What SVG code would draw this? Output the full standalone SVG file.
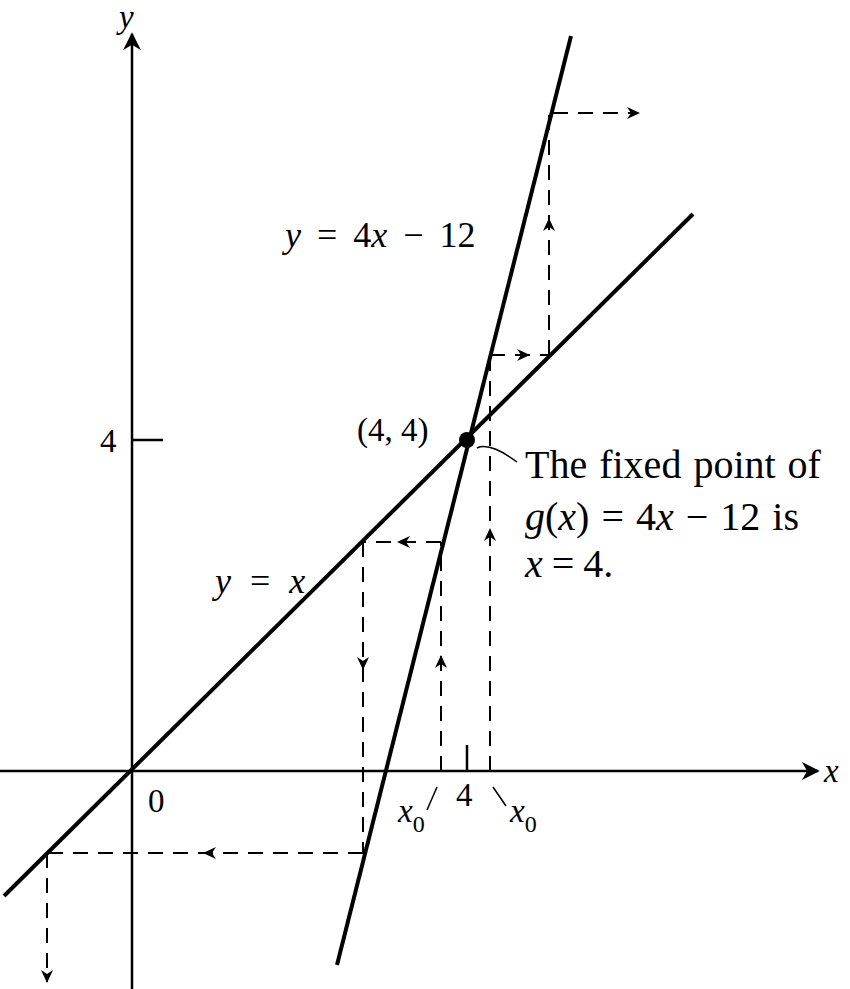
<svg xmlns="http://www.w3.org/2000/svg" width="850" height="989" viewBox="0 0 850 989">
<defs>
<path id="arr" d="M0,0 L-13,-6 L-9,0 L-13,6 Z" fill="#000"/>
<marker id="axh" viewBox="0 0 10 10" refX="9" refY="5" markerWidth="18" markerHeight="18" markerUnits="userSpaceOnUse" orient="auto"><path d="M0,0 L10,5 L0,10 L3,5 Z" fill="#000"/></marker>
<style>
.ax{stroke:#000;stroke-width:2.5;fill:none}
.ln{stroke:#000;stroke-width:4;fill:none}
.d{stroke:#000;stroke-width:2;fill:none;stroke-dasharray:15 10}
.t{font-family:"Liberation Serif",serif;font-size:33px;fill:#000}
.big{font-size:36px}
.ann{font-size:40px}
.i{font-style:italic}
.thin{stroke:#000;stroke-width:1.5;fill:none}
</style>
</defs>
<rect width="850" height="989" fill="#fff"/>
<g id="axes">
<line class="ax" x1="132" y1="989" x2="132" y2="34" marker-end="url(#axh)"/>
<line class="ax" x1="0" y1="771" x2="818" y2="771" marker-end="url(#axh)"/>
<line class="ax" x1="132" y1="440" x2="163" y2="440"/>
<line class="ax" x1="467" y1="771" x2="467" y2="745"/>
</g>
<g id="curves">
<line id="line-yx" class="ln" x1="4" y1="896" x2="693" y2="214"/>
<line id="line-g" class="ln" x1="337" y1="965" x2="571" y2="36"/>
<circle id="fixed-point" cx="467" cy="440" r="8" fill="#000"/>
</g>
<g id="connectors">
<path class="d" d="M441,771 V542"/>
<path class="d" d="M441,542 H363"/>
<path class="d" d="M363,542 V853"/>
<path class="d" d="M363,853 H47"/>
<path class="d" d="M47,853 V982"/>
<path class="d" d="M490,771 V352"/>
<path class="d" d="M490,355 H549"/>
<path class="d" d="M549,355 V113"/>
<path class="d" d="M553,113 H638"/>
<use href="#arr" transform="translate(441,655) rotate(-90)"/>
<use href="#arr" transform="translate(397,542) rotate(180)"/>
<use href="#arr" transform="translate(363,670) rotate(90)"/>
<use href="#arr" transform="translate(203,853) rotate(180)"/>
<use href="#arr" transform="translate(47,983) rotate(90)"/>
<use href="#arr" transform="translate(490,528) rotate(-90)"/>
<use href="#arr" transform="translate(530,355)"/>
<use href="#arr" transform="translate(549,218) rotate(-90)"/>
<use href="#arr" transform="translate(640,113)"/>
<path class="thin" d="M437,787 L427,810"/>
<path class="thin" d="M493,787 L506,806"/>
<path class="thin" d="M477,448 Q490,442 517,462"/>
</g>
<g id="labels">
<text class="t i" x="119" y="28">y</text>
<text class="t i" x="824" y="782">x</text>
<text class="t" x="100" y="452">4</text>
<text class="t" x="148" y="812">0</text>
<text class="t" x="456" y="806">4</text>
<text class="t i" x="398" y="822">x<tspan font-size="24" font-style="normal" dy="10">0</tspan></text>
<text class="t i" x="510" y="822">x<tspan font-size="24" font-style="normal" dy="10">0</tspan></text>
<text class="t" x="357" y="441">(4, 4)</text>
<text class="t big" x="285" y="247" word-spacing="7"><tspan class="i">y</tspan> = 4<tspan class="i">x</tspan> − 12</text>
<text class="t big" x="215" y="593" word-spacing="10"><tspan class="i">y</tspan> = <tspan class="i">x</tspan></text>
<text class="t ann" x="525" y="478" word-spacing="2">The fixed point of</text>
<text class="t ann" x="525" y="530" word-spacing="2"><tspan class="i">g</tspan>(<tspan class="i">x</tspan>) = 4<tspan class="i">x</tspan> − 12 is</text>
<text class="t ann" x="525" y="577" word-spacing="-1"><tspan class="i">x</tspan> = 4.</text>
</g>
</svg>
